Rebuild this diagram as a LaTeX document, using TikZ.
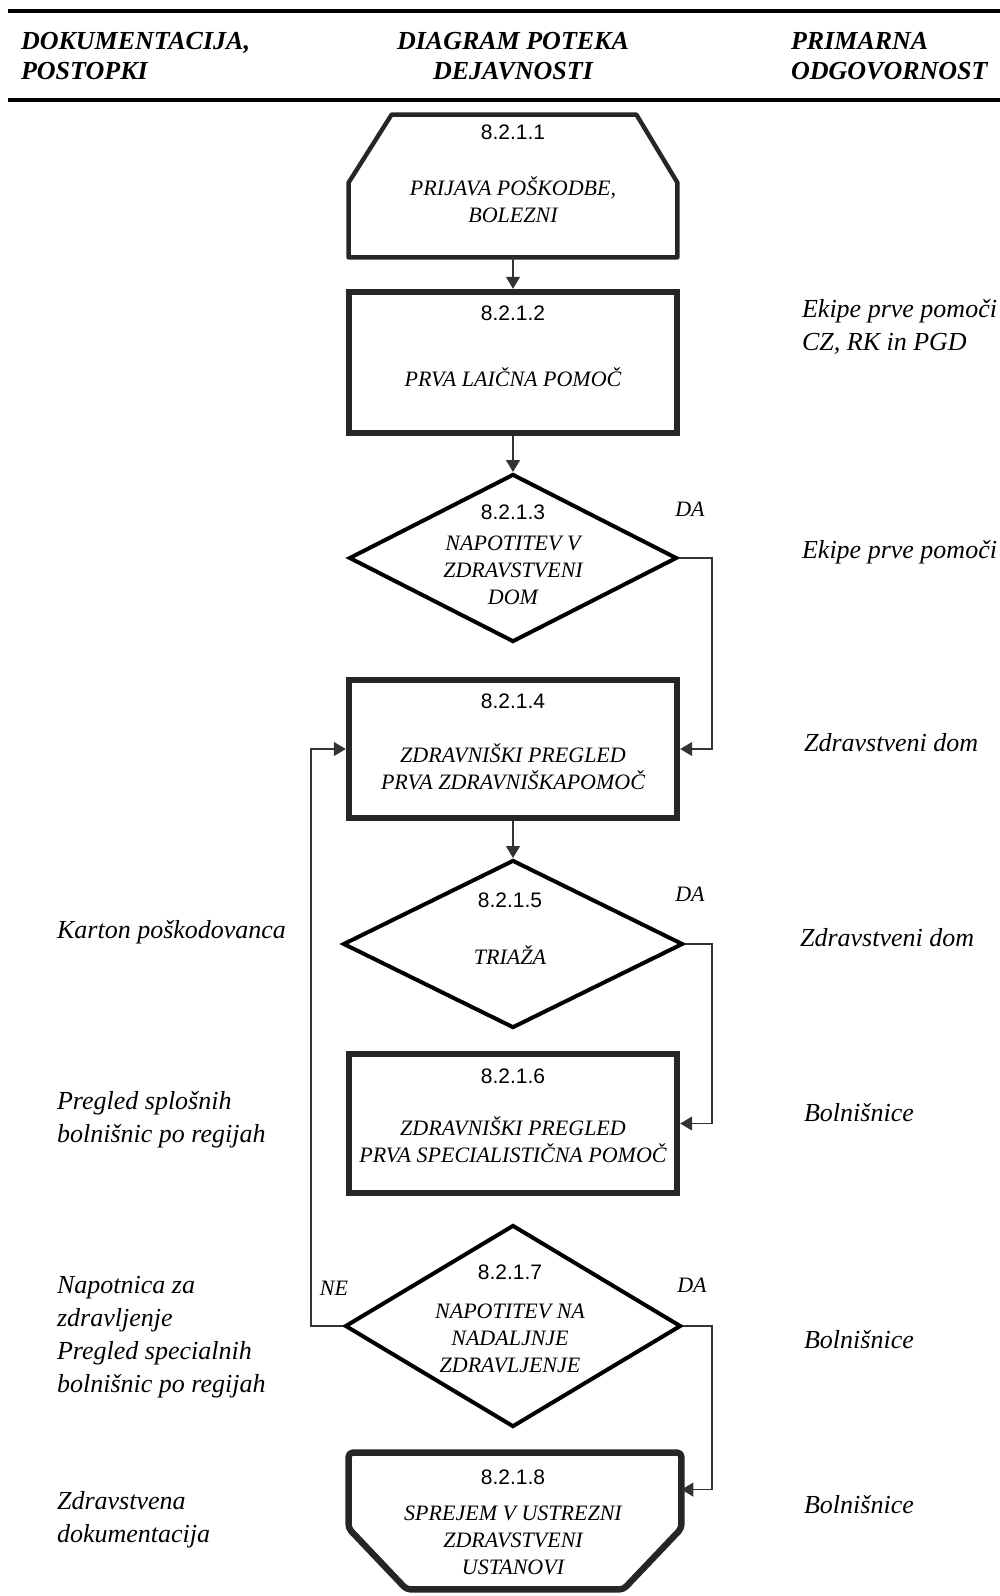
\documentclass[tikz,border=0pt]{standalone}
\usepackage{fontspec}
\setmainfont{Liberation Serif}
\newfontfamily\numfont{Liberation Sans}
\usetikzlibrary{shapes.geometric,arrows.meta,calc}

\begin{document}
\begin{tikzpicture}[x=0.5pt,y=-0.5pt,
    box/.style={draw=black!85, line width=3.2pt, minimum width=164pt, inner sep=0pt},
    shell/.style={inner sep=0pt, minimum width=164pt},
    outl/.style={draw=black!85, line width=2.2pt, line join=round},
    dia/.style={diamond, draw, line width=2pt, inner sep=0pt},
    num/.style={font=\numfont\fontsize{10.5}{12}\selectfont},
    txt/.style={font=\itshape\fontsize{11}{13.5}\selectfont, align=center},
    side/.style={font=\itshape\fontsize{13}{16.5}\selectfont, align=left, anchor=west},
    head/.style={font=\bfseries\itshape\fontsize{13}{15}\selectfont},
    yn/.style={font=\itshape\fontsize{11}{13}\selectfont},
    flow/.style={draw=black!80, line width=0.6pt, -{Triangle[width=7pt,length=6pt]}}]
    \useasboundingbox (0,0) rectangle (1000,1596);

    % header
    \draw [line width=1.6pt] (8,11) -- (1000,11);
    \draw [line width=1.6pt] (8,100) -- (1000,100);
    \node [head, align=left, anchor=west] (hdok) at (14,56) {DOKUMENTACIJA,\\POSTOPKI};
    \node [head, align=center] (hdia) at (513,56) {DIAGRAM POTEKA\\DEJAVNOSTI};
    \node [head, align=left, anchor=west] (hodg) at (784,56) {PRIMARNA\\ODGOVORNOST};

    % flow shapes
    \node [shell, minimum height=71pt] (n1) at (513,186) {};
    \draw [outl]
    (n1.south west) -- ($(n1.north west)+(0,68)$) -- ($(n1.north west)+(43,0)$)
    -- ($(n1.north east)+(-41,0)$) -- ($(n1.north east)+(0,68)$) -- (n1.south east) -- cycle;
    \node [box, minimum height=70.5pt] (n2) at (513,362.5) {};
    \node [dia, minimum width=164pt, minimum height=84pt] (d3) at (513,558) {};
    \node [box, minimum height=69pt] (b4) at (513,749) {};
    \node [dia, minimum width=170pt, minimum height=84pt] (d5) at (513,944) {};
    \node [box, minimum height=69.5pt] (b6) at (513,1123.5) {};
    \node [dia, minimum width=168pt, minimum height=101pt] (d7) at (513,1326) {};
    \node [shell, minimum width=166pt, minimum height=68pt] (b8) at (515,1521) {};
    \draw [outl, line width=3.2pt, rounded corners=2pt]
    (b8.north west) -- ($(b8.south west)+(0,-61)$) -- ($(b8.south west)+(58,0)$)
    -- ($(b8.south east)+(-58,0)$) -- ($(b8.south east)+(0,-61)$) -- (b8.north east) -- cycle;
    \coordinate (b8in) at ($(b8.north east)+(0,37)$);

    % texts in shapes
    \node [num] (n1num) at (513,132) {8.2.1.1};
    \node [txt] (n1txt) at (513,200) {PRIJAVA POŠKODBE,\\BOLEZNI};
    \node [num] (n2num) at (513,313) {8.2.1.2};
    \node [txt] (n2txt) at (513,377) {PRVA LAIČNA POMOČ};
    \node [num] (d3num) at (513,512) {8.2.1.3};
    \node [txt] (d3txt) at (513,570) {NAPOTITEV V\\ZDRAVSTVENI\\DOM};
    \node [num] (b4num) at (513,701) {8.2.1.4};
    \node [txt] (b4txt) at (513,767) {ZDRAVNIŠKI PREGLED\\PRVA ZDRAVNIŠKAPOMOČ};
    \node [num] (d5num) at (510,900) {8.2.1.5};
    \node [txt] (d5txt) at (510,955) {TRIAŽA};
    \node [num] (b6num) at (513,1076) {8.2.1.6};
    \node [txt] (b6txt) at (513,1140) {ZDRAVNIŠKI PREGLED\\PRVA SPECIALISTIČNA POMOČ};
    \node [num] (d7num) at (510,1272) {8.2.1.7};
    \node [txt] (d7txt) at (510,1338) {NAPOTITEV NA\\NADALJNJE\\ZDRAVLJENJE};
    \node [num] (b8num) at (513,1477) {8.2.1.8};
    \node [txt] (b8txt) at (513,1540) {SPREJEM V USTREZNI\\ZDRAVSTVENI\\USTANOVI};

    % connectors
    \draw [flow] (n1) -- (n2);
    \draw [flow] (n2) -- (d3);
    \draw [flow] (d3.east) -- ++(33,0) |- (b4.east);
    \draw [flow] (b4) -- (d5);
    \draw [flow] (d5.east) -- ++(27,0) |- (b6.east);
    \draw [flow] (d7.west) -- ++(-32,0) |- (b4.west);
    \draw [flow] (d7.east) -- ++(29,0) |- (b8in);

    \node [yn] (da3) at (690,509) {DA};
    \node [yn] (da5) at (690,894) {DA};
    \node [yn] (da7) at (692,1285) {DA};
    \node [yn] (ne7) at (334,1288) {NE};

    % left column
    \node [side] (lkart) at (50,932) {Karton poškodovanca};
    \node [side] (lsplo) at (50,1120) {Pregled splošnih\\bolnišnic po regijah};
    \node [side] (lnapo) at (50,1337) {Napotnica za\\zdravljenje\\Pregled specialnih\\bolnišnic po regijah};
    \node [side] (lzdra) at (50,1520) {Zdravstvena\\dokumentacija};

    % right column
    \node [side] (rekp1) at (795,327) {Ekipe prve pomoči\\CZ, RK in PGD};
    \node [side] (rekp2) at (795,552) {Ekipe prve pomoči};
    \node [side] (rzd1) at (797,743) {Zdravstveni dom};
    \node [side] (rzd2) at (793,938) {Zdravstveni dom};
    \node [side] (rbol1) at (797,1113) {Bolnišnice};
    \node [side] (rbol2) at (797,1340) {Bolnišnice};
    \node [side] (rbol3) at (797,1505) {Bolnišnice};

  \end{tikzpicture}
\end{document}
